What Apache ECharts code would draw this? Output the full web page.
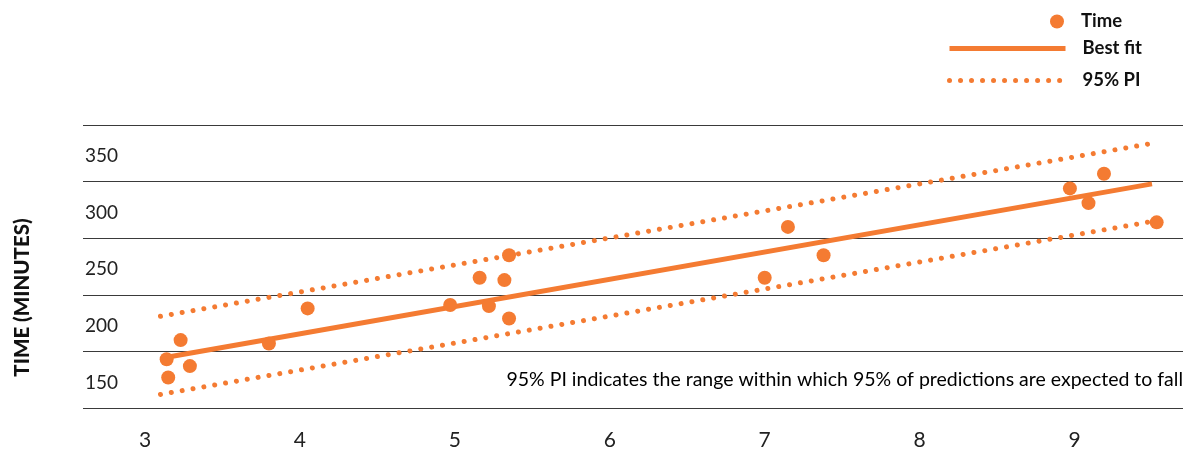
<!DOCTYPE html>
<html>
<head>
<meta charset="utf-8">
<script src="https://cdn.jsdelivr.net/npm/echarts@6/dist/echarts.min.js"></script>
<style>
  html, body { margin: 0; padding: 0; background: #fff; }
  #chart { width: 1197px; height: 452px; }
</style>
</head>
<body>
<div id="chart"></div>
<script>
// Observations: x value and time in minutes
const xValues = [3.14, 3.15, 3.23, 3.29, 3.80, 4.05, 4.97, 5.16, 5.22, 5.32, 5.35, 5.35, 7.00, 7.15, 7.38, 8.97, 9.09, 9.19, 9.53];
const timeValues = [193, 177, 210, 187, 207, 238, 241, 265, 240, 263, 285, 229, 265, 310, 285, 344, 331, 357, 314];

// Regression line and 95% prediction interval (end points)
const fitX = [3.15, 9.50];
const fitY = [195, 348];
const piX = [3.10, 9.51];
const piUpperY = [231, 384];
const piLowerY = [162, 315];

const xTicks = [3, 4, 5, 6, 7, 8, 9];
const yTicks = [150, 200, 250, 300, 350];

const ORANGE = '#F47B32';
const FONT = 'Lato, "Noto Sans", sans-serif';

const zip = (xs, ys) => xs.map((x, i) => [x, ys[i]]);
const dotted = { color: ORANGE, width: 5, type: [0.01, 11], cap: 'round' };
const solid = { color: ORANGE, width: 5, type: 'solid', cap: 'butt' };
const legendText = { fontFamily: FONT, fontWeight: 'bold', fontSize: 18.5, color: '#111', padding: [0, 0, 0, 12] };

const chart = echarts.init(document.getElementById('chart'), null, { renderer: 'canvas' });

chart.setOption({
  animation: false,
  backgroundColor: '#fff',
  grid: { left: 83, right: 14, top: 125, bottom: 44 },
  legend: [
    {
      data: ['Time'],
      left: 1045, top: 7,
      itemWidth: 14, itemHeight: 14,
      textStyle: legendText
    },
    {
      data: [
        { name: 'Best fit', itemStyle: { opacity: 0 }, lineStyle: solid },
        { name: '95% PI', itemStyle: { opacity: 0 }, lineStyle: dotted }
      ],
      orient: 'vertical',
      left: 942, top: 34,
      itemWidth: 116, itemHeight: 14, itemGap: 13,
      textStyle: legendText
    }
  ],
  xAxis: {
    type: 'value',
    min: 2.6, max: 9.7,
    axisLine: { show: false },
    axisTick: { show: false },
    splitLine: { show: false },
    axisLabel: {
      customValues: xTicks,
      margin: 22,
      fontFamily: FONT, fontSize: 21, color: '#222'
    }
  },
  yAxis: {
    type: 'value',
    min: 150, max: 400, interval: 50,
    name: 'TIME (MINUTES)',
    nameLocation: 'middle',
    nameRotate: 90,
    nameGap: 50,
    nameTextStyle: { fontFamily: FONT, fontWeight: 900, fontSize: 20.5, color: '#111', padding: [0, 62, 0, 0] },
    axisLine: { show: false },
    axisTick: { show: false },
    splitLine: { show: true, lineStyle: { color: '#3a3a3a', width: 1 } },
    axisLabel: {
      inside: true,
      margin: 2,
      verticalAlign: 'bottom',
      padding: [0, 0, 16, 0],
      fontFamily: FONT, fontSize: 19, color: '#222',
      formatter: v => (yTicks.includes(v) ? String(v) : '')
    }
  },
  graphic: [{
    type: 'text',
    right: 14, top: 370,
    style: {
      text: '95% PI indicates the range within which 95% of predictions are expected to fall',
      font: '19.5px ' + FONT,
      fill: '#000'
    }
  }],
  series: [
    {
      name: '95% PI', type: 'line', data: zip(piX, piUpperY),
      symbol: 'none', lineStyle: dotted, itemStyle: { color: ORANGE }, z: 2
    },
    {
      name: '95% PI', type: 'line', data: zip(piX, piLowerY),
      symbol: 'none', lineStyle: dotted, itemStyle: { color: ORANGE }, z: 2
    },
    {
      name: 'Best fit', type: 'line', data: zip(fitX, fitY),
      symbol: 'none', lineStyle: solid, itemStyle: { color: ORANGE }, z: 3
    },
    {
      name: 'Time', type: 'scatter', data: zip(xValues, timeValues),
      symbol: 'circle', symbolSize: 14, itemStyle: { color: ORANGE, opacity: 1 }, z: 4
    }
  ]
});
</script>
</body>
</html>
